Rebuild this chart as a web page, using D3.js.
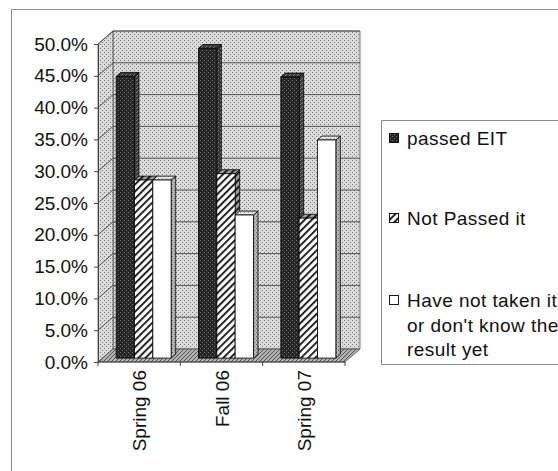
<!DOCTYPE html>
<html>
<head>
<meta charset="utf-8">
<script src="https://cdn.jsdelivr.net/npm/d3@7"></script>
<style>
  html, body { margin: 0; padding: 0; background: #fff; }
  svg { display: block; font-family: "Liberation Sans", Arial, sans-serif; }
</style>
</head>
<body>
<svg id="chart" width="558" height="471"></svg>
<script>
// ---- data ----
const categories = ["Spring 06", "Fall 06", "Spring 07"];
const passedEIT = [0.443, 0.487, 0.442];
const notPassed = [0.28, 0.29, 0.22];
const notTaken = [0.28, 0.225, 0.343];
const seriesNames = ["passed EIT", "Not Passed it", "Have not taken it or don't know the result yet"];
const legendLines = [["passed EIT"], ["Not Passed it"], ["Have not taken it", "or don't know the", "result yet"]];
const yTicks = [0, 0.05, 0.10, 0.15, 0.20, 0.25, 0.30, 0.35, 0.40, 0.45, 0.50];

const series = [passedEIT, notPassed, notTaken];

// ---- layout ----
const svg = d3.select("#chart");
const DX = 15, DY = -13;          // full depth of the 3-D box
const Z0 = 0.3, Z1 = 0.6;         // bar depth inside the box
const off = z => [DX * z, DY * z];

const y = d3.scaleLinear().domain([0, 0.5]).range([362, 44]);
const x = d3.scaleBand().domain(categories).range([98, 345]).padding(0);
const xs = d3.scaleBand().domain(d3.range(series.length)).range([0, x.bandwidth()])
  .paddingInner(0).paddingOuter(0.745);

// ---- fill patterns ----
const defs = svg.append("defs");
function dotPattern(id, base, dot, pts) {
  const p = defs.append("pattern").attr("id", id).attr("patternUnits", "userSpaceOnUse")
    .attr("width", 4).attr("height", 4);
  p.append("rect").attr("width", 4).attr("height", 4).attr("fill", base);
  pts.forEach(([px, py]) => p.append("rect").attr("x", px).attr("y", py)
    .attr("width", 1).attr("height", 1).attr("fill", dot));
}
dotPattern("wall", "#dadada", "#7d7d7d", [[0, 0], [2, 2]]);
dotPattern("floor", "#b0b0b0", "#555", [[0, 0], [2, 2], [1, 3], [3, 1]]);
dotPattern("dark", "#262626", "#6e6e6e", [[0, 0], [2, 2]]);
dotPattern("darkSide", "#3a3a3a", "#808080", [[0, 0], [2, 2], [1, 3]]);
dotPattern("whiteSide", "#b4b4b4", "#6a6a6a", [[0, 0], [2, 2]]);
dotPattern("whiteTop", "#e4e4e4", "#9a9a9a", [[0, 0], [2, 2]]);

function hatchPattern(id, base) {
  const p = defs.append("pattern").attr("id", id).attr("patternUnits", "userSpaceOnUse")
    .attr("width", 5).attr("height", 5).attr("patternTransform", "rotate(45)");
  p.append("rect").attr("width", 5).attr("height", 5).attr("fill", base);
  p.append("rect").attr("width", 1.8).attr("height", 5).attr("fill", "#111");
}
hatchPattern("hatch", "#fff");
hatchPattern("hatchSide", "#9a9a9a");

const fills = [
  { front: "url(#dark)", side: "url(#darkSide)", top: "url(#darkSide)" },
  { front: "url(#hatch)", side: "url(#hatchSide)", top: "url(#hatchSide)" },
  { front: "#ffffff", side: "url(#whiteSide)", top: "url(#whiteTop)" }
];

// ---- outer chart border ----
svg.append("path").attr("d", "M11.5,471 V9.5 H558").attr("fill", "none")
  .attr("stroke", "#8a8a8a").attr("stroke-width", 1);

// ---- 3-D walls ----
const [x0, x1] = x.range();
const yTop = y(0.5), yBot = y(0);
const poly = pts => "M" + pts.map(p => p.join(",")).join("L") + "Z";
const walls = svg.append("g");
walls.append("path").attr("d", poly([[x0 + DX, yTop + DY], [x1 + DX, yTop + DY], [x1 + DX, yBot + DY], [x0 + DX, yBot + DY]]))
  .attr("fill", "url(#wall)").attr("stroke", "#555").attr("stroke-width", 0.8);
walls.append("path").attr("d", poly([[x0, yTop], [x0 + DX, yTop + DY], [x0 + DX, yBot + DY], [x0, yBot]]))
  .attr("fill", "url(#wall)").attr("stroke", "#555").attr("stroke-width", 0.8);
walls.append("path").attr("d", poly([[x0, yBot], [x1, yBot], [x1 + DX, yBot + DY], [x0 + DX, yBot + DY]]))
  .attr("fill", "url(#floor)").attr("stroke", "#555").attr("stroke-width", 0.8);

// gridlines on back and side walls
const grid = svg.append("g").attr("stroke", "#4a4a4a").attr("stroke-width", 0.9).attr("fill", "none");
yTicks.filter(t => t > 0).forEach(t => {
  grid.append("path").attr("d", `M${x0},${y(t)}L${x0 + DX},${y(t) + DY}H${x1 + DX}`);
});

// ---- bars ----
const barsG = svg.append("g").attr("stroke", "#000").attr("stroke-width", 0.8).attr("stroke-linejoin", "round");
const [ox0, oy0] = off(Z0), [ox1, oy1] = off(Z1);
categories.forEach((c, ci) => {
  series.forEach((vals, si) => {
    const v = vals[ci];
    const bl = x(c) + xs(si), br = bl + xs.bandwidth();
    const top = y(v), bot = y(0);
    const g = barsG.append("g");
    // side face
    g.append("path").attr("d", poly([[br + ox0, top + oy0], [br + ox1, top + oy1], [br + ox1, bot + oy1], [br + ox0, bot + oy0]]))
      .attr("fill", fills[si].side);
    // top face
    g.append("path").attr("d", poly([[bl + ox0, top + oy0], [br + ox0, top + oy0], [br + ox1, top + oy1], [bl + ox1, top + oy1]]))
      .attr("fill", fills[si].top);
    // front face
    g.append("rect").attr("x", bl + ox0).attr("y", top + oy0)
      .attr("width", br - bl).attr("height", bot - top).attr("fill", fills[si].front);
  });
});

// ---- value axis ----
const yAxis = svg.append("g").attr("transform", `translate(${x0},0)`)
  .call(d3.axisLeft(y).tickValues(yTicks).tickFormat(d3.format(".1%")).tickSize(4).tickPadding(6));
yAxis.select(".domain").attr("stroke", "#444");
yAxis.selectAll(".tick line").attr("stroke", "#444");
yAxis.selectAll("text").attr("font-size", 19).attr("fill", "#111")
  .attr("font-family", "'Liberation Sans', Arial, sans-serif");

// ---- category axis ----
const catAxis = svg.append("g");
catAxis.append("line").attr("x1", x0).attr("x2", x1).attr("y1", yBot).attr("y2", yBot).attr("stroke", "#444");
categories.concat([null]).forEach((c, i) => {
  const tx = c === null ? x1 : x(c);
  catAxis.append("line").attr("x1", tx).attr("x2", tx).attr("y1", yBot).attr("y2", yBot + 4).attr("stroke", "#444");
});
categories.forEach(c => {
  const cx = x(c) + x.bandwidth() / 2 + 7;
  catAxis.append("text").attr("transform", `translate(${cx},370) rotate(-90)`)
    .attr("text-anchor", "end").attr("font-size", 19).attr("fill", "#111").text(c);
});

// ---- legend ----
const legend = svg.append("g");
legend.append("path").attr("d", "M558,120.5 H381.5 V364.5 H558").attr("fill", "none")
  .attr("stroke", "#8a8a8a").attr("stroke-width", 1);
const legendTop = [145, 225, 307];
const swatchFill = ["url(#dark)", "url(#hatch)", "#ffffff"];
legendLines.forEach((lines, i) => {
  legend.append("rect").attr("x", 389.5).attr("y", legendTop[i] - 11.5).attr("width", 9).attr("height", 9)
    .attr("fill", swatchFill[i]).attr("stroke", "#000").attr("stroke-width", 0.9);
  const t = legend.append("text").attr("x", 407).attr("y", legendTop[i])
    .attr("font-size", 19).attr("letter-spacing", 0.45).attr("fill", "#111");
  lines.forEach((ln, li) => t.append("tspan").attr("x", 407).attr("dy", li === 0 ? 0 : 24.5).text(ln));
});
</script>
</body>
</html>
